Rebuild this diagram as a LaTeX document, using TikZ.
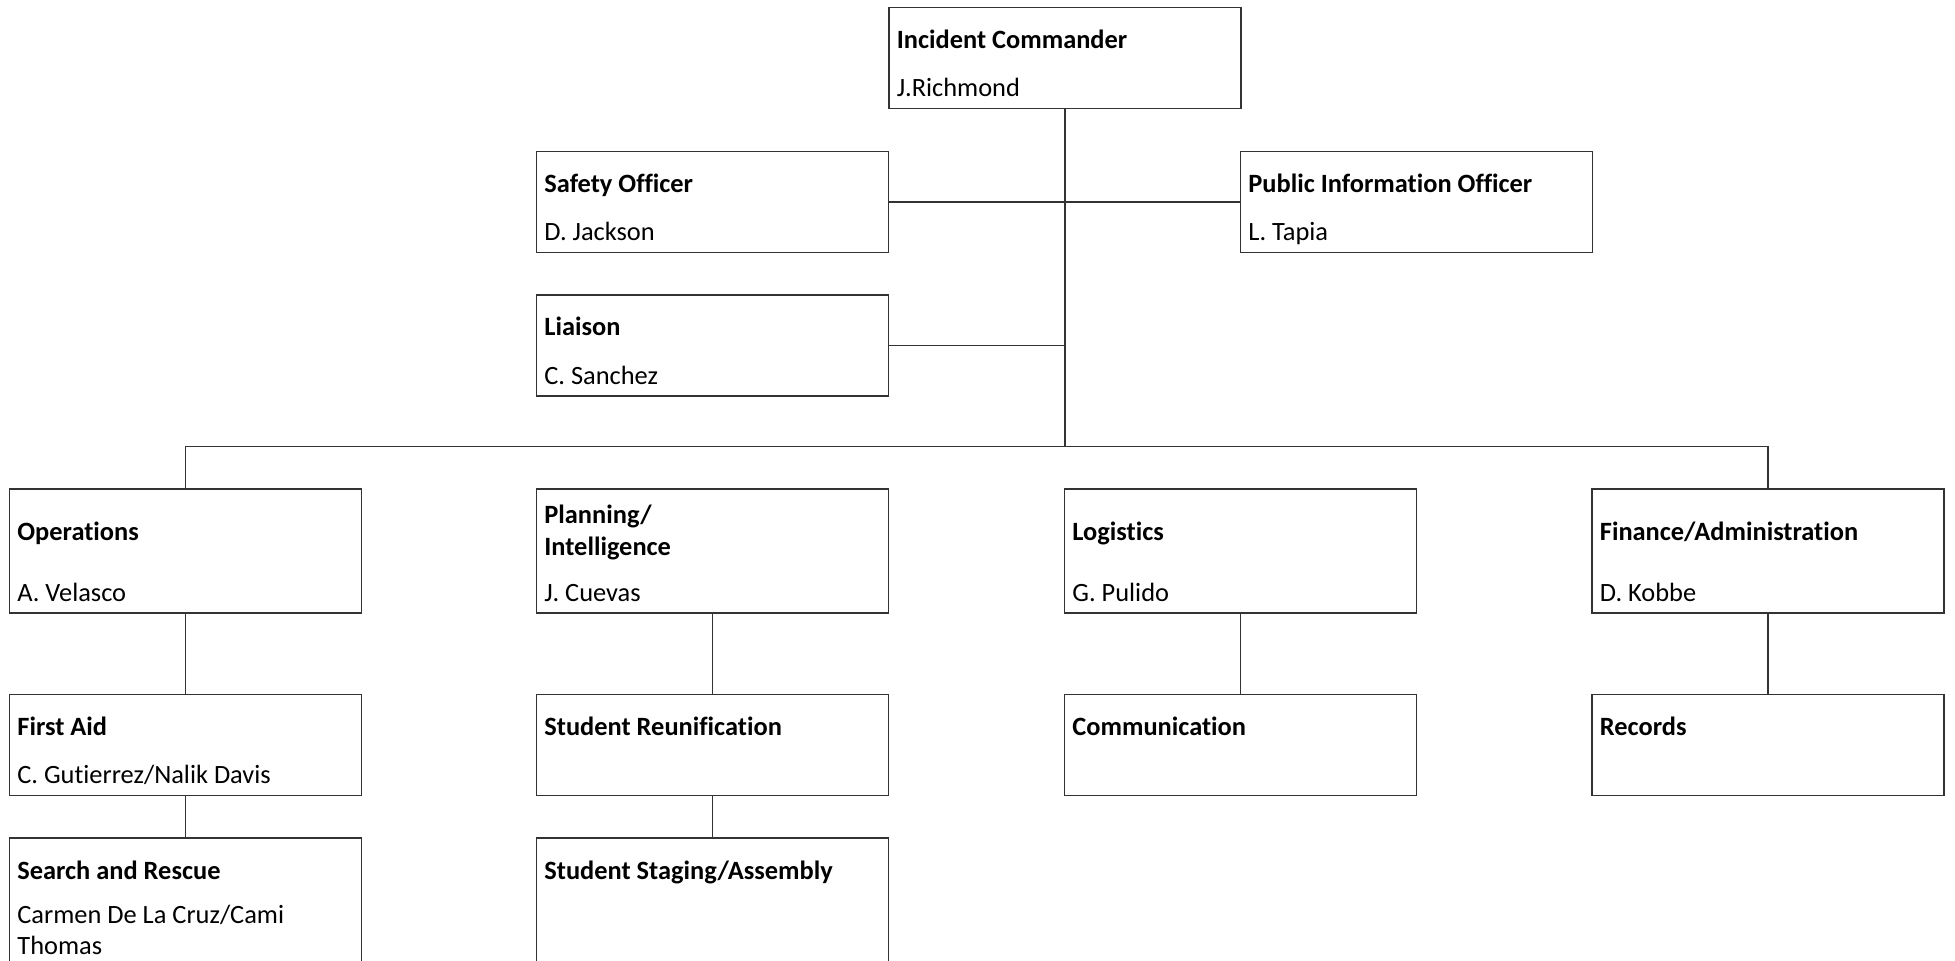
\documentclass[tikz,border=0pt]{standalone}
\usepackage{fontspec}
\setmainfont{Carlito}[Ligatures=CommonOff]
\usetikzlibrary{positioning}

\newcommand{\boxfont}{\fontsize{13.2}{14.65}\selectfont}

\tikzset{
  unit/.style={draw=black!80, line width=.75pt, inner sep=0pt, outer sep=0pt,
               minimum width=176pt, minimum height=50.5pt},
  tall/.style={unit, minimum height=62pt},
  role/.style={anchor=base west, inner sep=0pt, align=left, font=\boxfont\bfseries},
  who/.style={anchor=base west, inner sep=0pt, align=left, font=\boxfont},
  link/.style={draw=black!80, line width=.75pt}
}

\begin{document}
\begin{tikzpicture}[x=.5pt,y=-.5pt]

      % page frame, the lowest boxes run off the bottom
      \clip (0,0) rectangle (1955,961);

      % command staff
      \node[unit] (ic) at (1065,58) {};
      \node[unit] (safety) at (712.5,202) {};
      \node[unit] (pio) at (1416.5,202) {};
      \node[unit] (liaison) at (712.5,345.5) {};

      \node[role] (ic-t) at ([shift={(7.5,41)}]ic.north west) {Incident Commander};
      \node[who] (ic-n) at ([shift={(7.5,-11.5)}]ic.south west) {J.Richmond};
      \node[role] (safety-t) at ([shift={(7.5,41)}]safety.north west) {Safety Officer};
      \node[who] (safety-n) at ([shift={(7.5,-11.5)}]safety.south west) {D. Jackson};
      \node[role] (pio-t) at ([shift={(7.5,41)}]pio.north west) {Public Information Officer};
      \node[who] (pio-n) at ([shift={(7.5,-11.5)}]pio.south west) {L. Tapia};
      \node[role] (liaison-t) at ([shift={(7.5,41)}]liaison.north west) {Liaison};
      \node[who] (liaison-n) at ([shift={(7.5,-11.5)}]liaison.south west) {C. Sanchez};

      % general staff
      \node[tall] (ops) at (185.5,551) {};
      \node[tall] (plan) at (712.5,551) {};
      \node[tall] (log) at (1240.5,551) {};
      \node[tall] (fin) at (1768,551) {};

      \node[role] (ops-t) at ([shift={(7.5,51.5)}]ops.north west) {Operations};
      \node[who] (ops-n) at ([shift={(7.5,-11.5)}]ops.south west) {A. Velasco};
      \node[role, font=\fontsize{13.2}{16}\selectfont\bfseries] (plan-t)
           at ([shift={(7.5,66.5)}]plan.north west) {Planning/\\Intelligence};
      \node[who] (plan-n) at ([shift={(7.5,-11.5)}]plan.south west) {J. Cuevas};
      \node[role] (log-t) at ([shift={(7.5,51.5)}]log.north west) {Logistics};
      \node[who] (log-n) at ([shift={(7.5,-11.5)}]log.south west) {G. Pulido};
      \node[role] (fin-t) at ([shift={(7.5,51.5)}]fin.north west) {Finance/Administration};
      \node[who] (fin-n) at ([shift={(7.5,-11.5)}]fin.south west) {D. Kobbe};

      % units
      \node[unit] (aid) at (185.5,745) {};
      \node[unit] (reunif) at (712.5,745) {};
      \node[unit] (comm) at (1240.5,745) {};
      \node[unit] (rec) at (1768,745) {};
      \node[unit, minimum height=70pt, anchor=north] (sar) at (185.5,838) {};
      \node[unit, minimum height=70pt, anchor=north] (staging) at (712.5,838) {};

      \node[role] (aid-t) at ([shift={(7.5,41)}]aid.north west) {First Aid};
      \node[who] (aid-n) at ([shift={(7.5,-11.5)}]aid.south west) {C. Gutierrez/Nalik Davis};
      \node[role] (reunif-t) at ([shift={(7.5,41)}]reunif.north west) {Student Reunification};
      \node[role] (comm-t) at ([shift={(7.5,41)}]comm.north west) {Communication};
      \node[role] (rec-t) at ([shift={(7.5,41)}]rec.north west) {Records};
      \node[role] (sar-t) at ([shift={(7.5,41)}]sar.north west) {Search and Rescue};
      \node[who, font=\fontsize{13.2}{15.6}\selectfont] (sar-n)
           at ([shift={(7.5,117)}]sar.north west) {Carmen De La Cruz/Cami\\Thomas};
      \node[role] (staging-t) at ([shift={(7.5,41)}]staging.north west) {Student Staging/Assembly};

      % lines
      \coordinate (bus) at (1065,446.5);
      \draw[link] (ic.south) -- (ic.south |- bus);
      \draw[link] (safety.east) -- (safety.east -| ic.south);
      \draw[link] (pio.west) -- (pio.west -| ic.south);
      \draw[link] (liaison.east) -- (liaison.east -| ic.south);
      \draw[link] (ops.north) -- (ops.north |- bus) -- (fin.north |- bus) -- (fin.north);

      \draw[link] (ops.south) -- (aid.north);
      \draw[link] (aid.south) -- (sar.north);
      \draw[link] (plan.south) -- (reunif.north);
      \draw[link] (reunif.south) -- (staging.north);
      \draw[link] (log.south) -- (comm.north);
      \draw[link] (fin.south) -- (rec.north);

\end{tikzpicture}
\end{document}
